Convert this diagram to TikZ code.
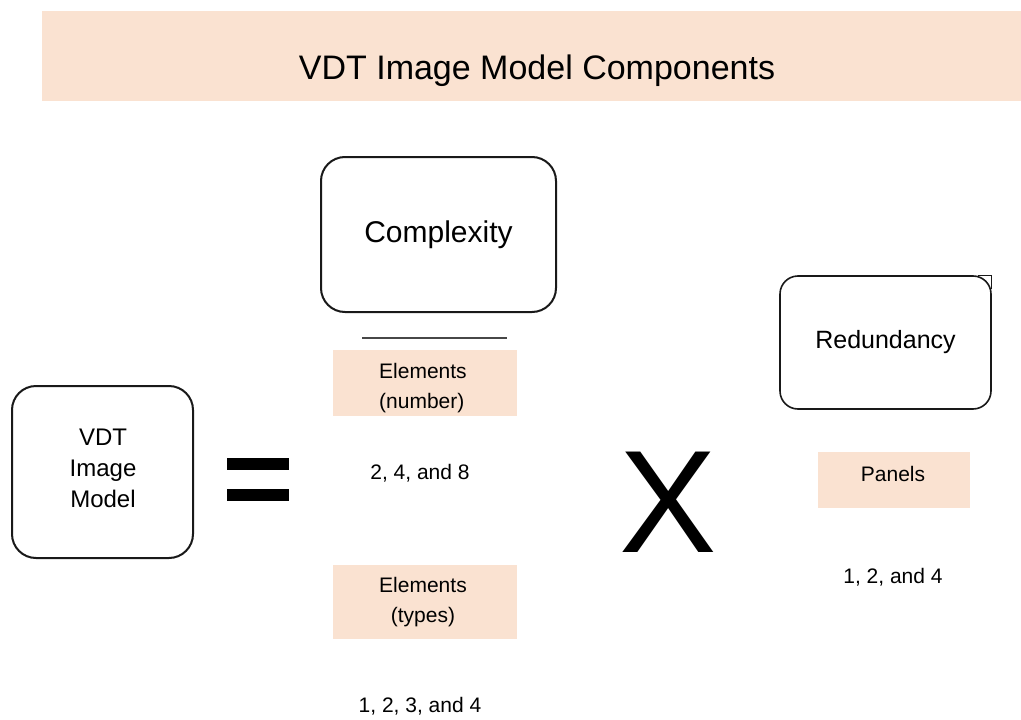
\documentclass[tikz,border=0pt]{standalone}
\usepackage{fontspec}
\setmainfont{Liberation Sans}
\definecolor{bandpeach}{RGB}{250,226,209}
\definecolor{boxline}{RGB}{25,25,25}
\tikzset{
  band/.style={fill=bandpeach, draw=none, inner sep=0pt},
  roundbox/.style={draw=boxline, line width=2pt, rounded corners=24pt, fill=white, inner sep=0pt, align=center},
  lbl/.style={inner sep=0pt, align=center, text=black},
}
\begin{document}
\begin{tikzpicture}[x=1pt,y=-1pt]
  \useasboundingbox (0,0) rectangle (1021,720);
  \fill[white] (0,0) rectangle (1021,720);

  % title band
  \node[band, minimum width=979pt, minimum height=90pt] (titleband) at (531.5,56) {};
  \node[lbl, font=\fontsize{34}{40}\selectfont] (title) at (537,71) {VDT Image Model Components};

  % left-hand side of the equation
  \node[roundbox, minimum width=181pt, minimum height=172pt] (vdt) at (102.5,472) {};
  \node[lbl, font=\fontsize{24}{31}\selectfont] (vdttext) at (103,468) {VDT\\Image\\Model};

  % equals sign
  \fill[black] (227,458) rectangle (289,470);
  \fill[black] (227,489) rectangle (289,501);

  % complexity column
  \node[roundbox, minimum width=235pt, minimum height=155pt, font=\fontsize{30}{36}\selectfont] (cplx) at (438.5,234.5) {Complexity};
  \coordinate (ruleL) at (362,338);
  \coordinate (ruleR) at (507,338);
  \draw[line width=1.5pt, draw=boxline!80] (ruleL) -- (ruleR);

  \node[band, minimum width=184pt, minimum height=66pt] (numband) at (425,383) {};
  \node[lbl, font=\fontsize{21}{30}\selectfont, align=left, anchor=west] (numtext) at (379,388) {Elements\\(number)};
  \node[lbl, font=\fontsize{21}{26}\selectfont] (numvals) at (420,473) {2, 4, and 8};

  \node[band, minimum width=184pt, minimum height=74pt] (typeband) at (425,602) {};
  \node[lbl, font=\fontsize{21}{30}\selectfont] (typetext) at (423,602) {Elements\\(types)};
  \node[lbl, font=\fontsize{21}{26}\selectfont] (typevals) at (420,706) {1, 2, 3, and 4};

  % multiplication sign
  \node[lbl, font=\fontsize{146}{150}\selectfont] (times) at (668,502) {X};

  % redundancy column
  \node[roundbox, line width=1.6pt, rounded corners=18pt, minimum width=211pt, minimum height=133pt, font=\fontsize{25}{30}\selectfont] (redund) at (885.5,342.5) {Redundancy};
  \draw[line width=1.1pt, draw=boxline] ([xshift=-14pt]redund.north east) -- (redund.north east) -- ([yshift=-14pt]redund.north east);

  \node[band, minimum width=152pt, minimum height=56pt] (panelband) at (894,480) {};
  \node[lbl, font=\fontsize{21}{26}\selectfont] (paneltext) at (893,474) {Panels};
  \node[lbl, font=\fontsize{21}{26}\selectfont] (panelvals) at (893,577) {1, 2, and 4};
\end{tikzpicture}
\end{document}
